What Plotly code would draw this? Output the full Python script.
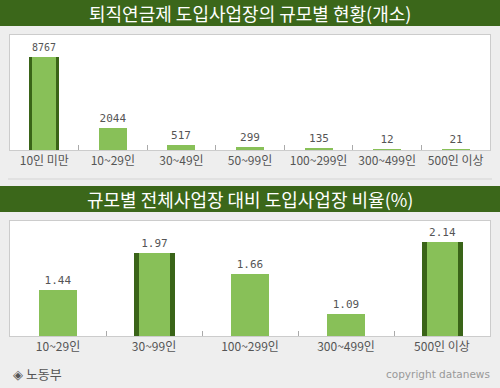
import plotly.graph_objects as go

# ---- data ----
top_title = "퇴직연금제 도입사업장의 규모별 현황(개소)"
top_categories = ["10인 미만", "10~29인", "30~49인", "50~99인", "100~299인", "300~499인", "500인 이상"]
top_values = [8767, 2044, 517, 299, 135, 12, 21]
top_highlight = ["10인 미만"]

bottom_title = "규모별 전체사업장 대비 도입사업장 비율(%)"
bottom_categories = ["10~29인", "30~99인", "100~299인", "300~499인", "500인 이상"]
bottom_values = [1.44, 1.97, 1.66, 1.09, 2.14]
bottom_highlight = ["30~99인", "500인 이상"]

source_text = "◈ 노동부"
copyright_text = "copyright datanews"

# ---- styles ----
W, H = 500, 388
BG = "#eeeeee"
TITLE_GREEN = "#3b671a"
LIGHT = "#88c058"
DARK = "#3a6418"
BORDER = "#cccccc"
KFONT = "Noto Sans CJK KR"
NUMFONT = "DejaVu Sans Mono"


def py(px):
    return 1 - px / H


fig = go.Figure()


def add_bars(cats, vals, hl, xa, ya, w_reg, w_out, w_in, fmt):
    dark_y = [v if c in hl else None for c, v in zip(cats, vals)]
    fig.add_trace(go.Bar(
        x=cats, y=dark_y, width=w_out, marker=dict(color=DARK, line=dict(width=0)),
        xaxis=xa, yaxis=ya, hoverinfo="skip", showlegend=False))
    widths = [w_in if c in hl else w_reg for c in cats]
    fig.add_trace(go.Bar(
        x=cats, y=vals, width=widths, marker=dict(color=LIGHT, line=dict(width=0)),
        text=[fmt(v) for v in vals], textposition="outside", cliponaxis=False,
        textfont=dict(family=NUMFONT, size=11, color="#555555"),
        xaxis=xa, yaxis=ya, showlegend=False))


add_bars(top_categories, top_values, top_highlight, "x", "y", 0.41, 0.44, 0.35, lambda v: f"{v}")
add_bars(bottom_categories, bottom_values, bottom_highlight, "x2", "y2", 0.406, 0.427, 0.323, lambda v: f"{v:.2f}")

xcommon = dict(showline=True, linecolor=BORDER, mirror=True, ticks="inside", tickson="boundaries",
               ticklen=5, tickcolor="#aaaaaa", showgrid=False, zeroline=False,
               tickfont=dict(family=KFONT, size=12, color="#555555"), fixedrange=True)
ycommon = dict(showline=True, linecolor=BORDER, mirror=True, showgrid=False, zeroline=False,
               showticklabels=False, ticks="", fixedrange=True)

fig.update_layout(
    width=W, height=H, margin=dict(l=0, r=0, t=0, b=0),
    paper_bgcolor=BG, plot_bgcolor="white", barmode="overlay", bargap=0,
    xaxis=dict(domain=[10 / W, 490 / W], anchor="y", **xcommon),
    yaxis=dict(domain=[py(150), py(35)], anchor="x", range=[0, 10840], **ycommon),
    xaxis2=dict(domain=[10 / W, 490 / W], anchor="y2", **xcommon),
    yaxis2=dict(domain=[py(336), py(221)], anchor="x2", range=[0.763, 2.44], **ycommon),
    showlegend=False,
    shapes=[
        dict(type="rect", xref="paper", yref="paper", x0=0, x1=1, y0=py(26), y1=1,
             fillcolor=TITLE_GREEN, line=dict(width=0), layer="below"),
        dict(type="rect", xref="paper", yref="paper", x0=0, x1=1, y0=py(212), y1=py(186),
             fillcolor=TITLE_GREEN, line=dict(width=0), layer="below"),
        dict(type="line", xref="paper", yref="paper", x0=8 / W, x1=492 / W, y0=py(179), y1=py(179),
             line=dict(color="#d4d4d4", width=1)),
    ],
    annotations=[
        dict(text=top_title, xref="paper", yref="paper", x=0.5, y=py(13), xanchor="center", yanchor="middle",
             showarrow=False, font=dict(family=KFONT, size=18, color="white")),
        dict(text=bottom_title, xref="paper", yref="paper", x=0.5, y=py(199), xanchor="center", yanchor="middle",
             showarrow=False, font=dict(family=KFONT, size=18, color="white")),
        dict(text=source_text, xref="paper", yref="paper", x=11 / W, y=py(373), xanchor="left", yanchor="middle",
             showarrow=False, font=dict(family=KFONT, size=13, color="#555555")),
        dict(text=copyright_text, xref="paper", yref="paper", x=492 / W, y=py(374), xanchor="right", yanchor="middle",
             showarrow=False, font=dict(family="DejaVu Sans", size=10.5, color="#999999")),
    ],
)

fig.write_html("out.html", config={"displayModeBar": False},
               post_script="document.body.style.margin='0';document.body.style.background='#eeeeee';")
